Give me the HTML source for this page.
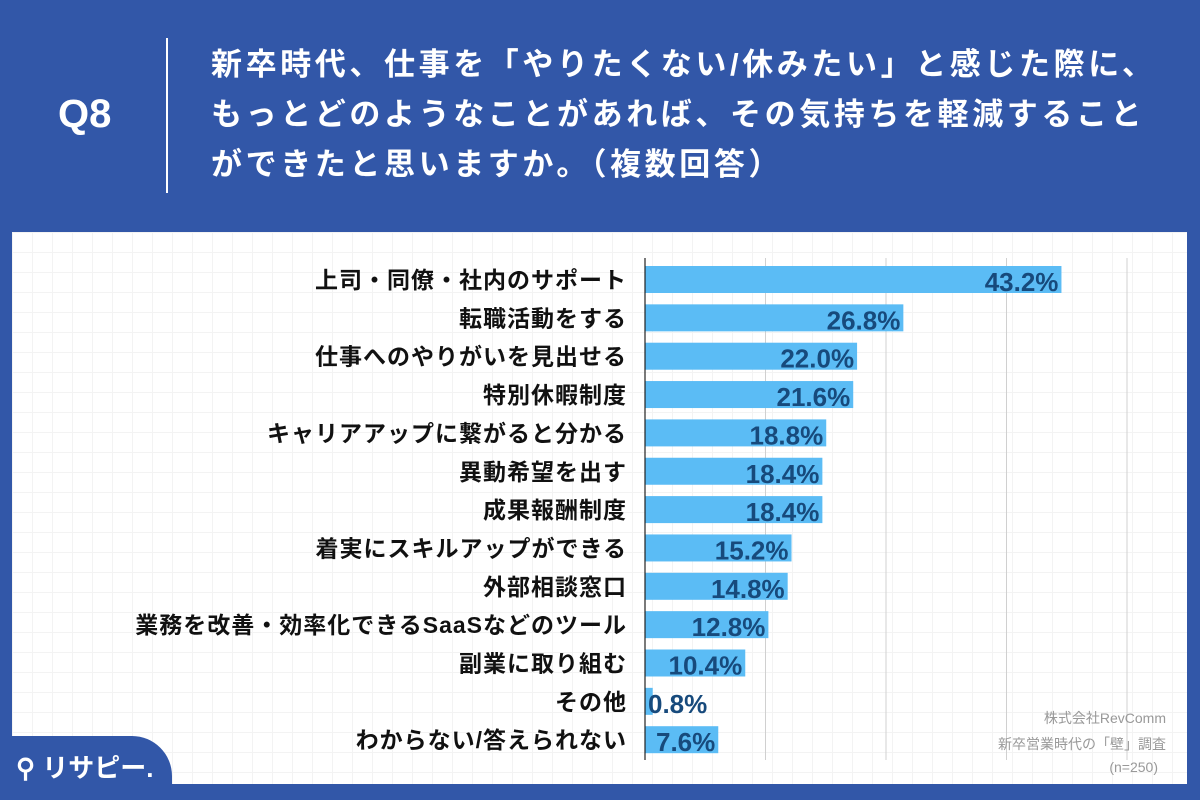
<!DOCTYPE html>
<html><head><meta charset="utf-8">
<style>
body{margin:0;width:1200px;height:800px;background:#3257a8;overflow:hidden;font-family:"Liberation Sans","Noto Sans CJK JP",sans-serif;position:relative}
.q{position:absolute;left:58px;top:92px;color:#fff;font-weight:bold;font-size:40px}
.div{position:absolute;left:166px;top:38px;width:2px;height:155px;background:#fff}
.title{position:absolute;left:211px;top:40px;color:#fff;font-weight:bold;font-size:31px;line-height:50px;white-space:nowrap;letter-spacing:3.6px}
.panel{position:absolute;left:12px;top:232px;width:1175px;height:552px;background:#fff;
background-image:linear-gradient(#f3f3f3 1px,transparent 1px),linear-gradient(90deg,#f3f3f3 1px,transparent 1px);background-size:20px 20px}
.tab{position:absolute;left:0;top:736px;width:172px;height:52px;background:#3257a8;border-top-right-radius:40px}
.logo{position:absolute;left:16px;top:748px;color:#fff;font-size:26px;font-weight:bold}
svg{position:absolute;left:0;top:0}
</style></head><body>
<div class="q">Q8</div>
<div class="div"></div>
<div class="title">新卒時代、仕事を「やりたくない/休みたい」と感じた際に、<br>もっとどのようなことがあれば、その気持ちを軽減すること<br>ができたと思いますか。（複数回答）</div>
<div class="panel"></div>
<svg id="chart" width="1200" height="800"></svg>
<div class="tab"></div>
<div class="logo">⚲ リサピー.</div>
<script>
const categories=["上司・同僚・社内のサポート","転職活動をする","仕事へのやりがいを見出せる","特別休暇制度","キャリアアップに繋がると分かる","異動希望を出す","成果報酬制度","着実にスキルアップができる","外部相談窓口","業務を改善・効率化できるSaaSなどのツール","副業に取り組む","その他","わからない/答えられない"];
const values=[43.2,26.8,22.0,21.6,18.8,18.4,18.4,15.2,14.8,12.8,10.4,0.8,7.6];
const ticks=[0,12.5,25,37.5,50];
const NS="http://www.w3.org/2000/svg";
const svg=document.getElementById('chart');
const x0=645,pxPer=(1127-645)/50,top0=262,step=38.35,barH=27;
const xs=v=>x0+v*pxPer;
const ys=i=>top0+i*step;
function mk(t,a){const e=document.createElementNS(NS,t);for(const k in a)e.setAttribute(k,a[k]);svg.appendChild(e);return e;}
ticks.forEach((t,i)=>{if(i===0)return;const l=mk('line',{x1:xs(t),x2:xs(t),y1:258,y2:760,stroke:'#d0d0d0','stroke-width':1});

});
values.forEach((v,i)=>{
const y=ys(i);
const r=mk('rect',{x:x0,y:y+4,width:xs(v)-x0,height:barH,fill:'#5bbcf5'});


const lbl=mk('text',{x:627,y:y+26,'text-anchor':'end','font-size':23,'font-weight':'bold',fill:'#111','letter-spacing':1});
lbl.textContent=categories[i];


const inside=(xs(v)-x0)>65;
const vt=mk('text',{x:inside?xs(v)-3:x0+3,y:y+29,'text-anchor':inside?'end':'start','font-size':26,'font-weight':'bold',fill:'#174a7c'});
vt.textContent=v.toFixed(1)+'%';


});
const ax=mk('line',{x1:x0,x2:x0,y1:258,y2:760,stroke:'#222','stroke-width':1.2});


const notes=[["株式会社RevComm",723],["新卒営業時代の「壁」調査",749],["(n=250)",772]];
notes.forEach(n=>{const t=mk('text',{x:n[0]==="(n=250)"?1158:1166,y:n[1],'text-anchor':'end','font-size':14,fill:'#999'});t.textContent=n[0];

});
</script>
</body></html>
